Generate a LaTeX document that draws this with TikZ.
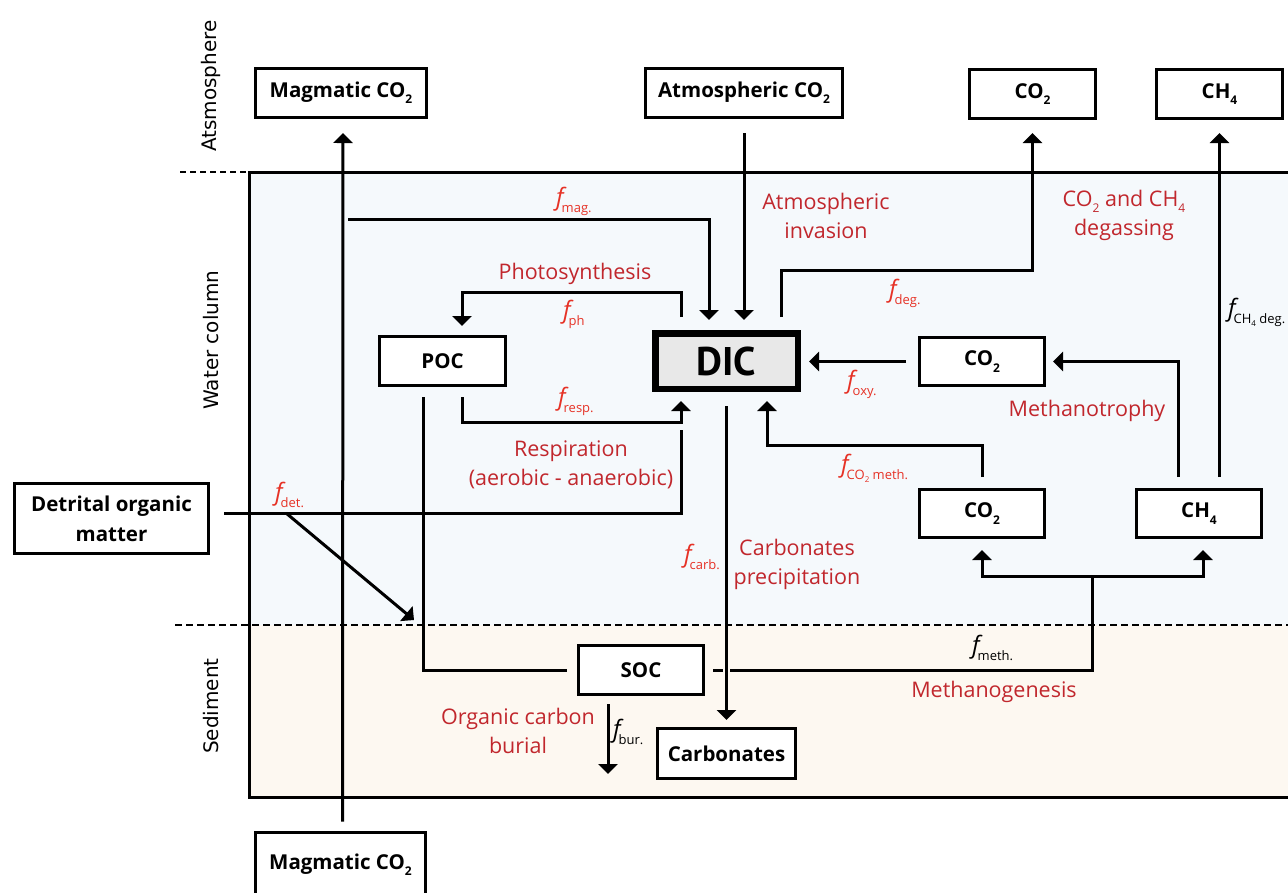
\documentclass[tikz,border=0pt]{standalone}
\usepackage{fontspec}
\setmainfont{Open Sans}
\newfontfamily\ptsans{PT Sans}
\newfontfamily\dejavu{DejaVu Sans}
\usetikzlibrary{arrows.meta}
\definecolor{labred}{RGB}{193,39,45}
\definecolor{fred}{RGB}{230,50,38}
\definecolor{waterbg}{RGB}{245,249,252}
\definecolor{sedbg}{RGB}{253,248,241}
\definecolor{dicgray}{RGB}{232,232,232}
\newcommand\fl[1]{{\fontsize{24}{24}\selectfont\itshape f}\kern-2pt\raisebox{-7pt}{\fontsize{13}{13}\selectfont #1}}
\newcommand\sub[1]{\raisebox{-0.3em}{\fontsize{12}{12}\selectfont #1}}
\newcommand\ssub[1]{\raisebox{-0.25em}{\fontsize{8}{8}\selectfont #1}}
\tikzset{
  box/.style={draw, line width=3pt, fill=white, inner sep=0pt, align=center,
    font=\fontsize{20.5}{30}\selectfont\bfseries},
  line/.style={line width=3pt},
  arr/.style={line width=3pt, -{Triangle[width=19pt,length=10pt]}},
  redlab/.style={text=labred, font=\fontsize{21.5}{29}\selectfont, align=center},
  flabel/.style={text=fred, anchor=base west, inner sep=0pt},
  zone/.style={font=\dejavu\fontsize{20}{20}\selectfont, rotate=90}
}
\begin{document}
\begin{tikzpicture}[x=1pt,y=-1pt]
\useasboundingbox (0,0) rectangle (1288,892);
% background zones
\fill[waterbg] (249,172) rectangle (1300,625);
\fill[sedbg] (249,625) rectangle (1300,797);
\draw[line width=3pt] (1300,172) -- (249,172) -- (249,797) -- (1300,797);
\draw[line width=2pt, dash pattern=on 6pt off 4pt] (180,172) -- (249,172);
\draw[line width=2.5pt, dash pattern=on 7pt off 4pt] (175,625) -- (1300,625);
% zone labels
\node[zone] (zatm) at (211,86) {Atsmosphere};
\node[zone] (zwat) at (211,340) {Water column};
\node[zone] (zsed) at (211,706) {Sediment};
% boxes
\node[box, minimum width=171pt, minimum height=49pt] (magtop) at (341,93) {Magmatic CO\sub{2}};
\node[box, minimum width=197pt, minimum height=49pt] (atmco2) at (744,93) {Atmospheric CO\sub{2}};
\node[box, minimum width=126pt, minimum height=49pt] (co2top) at (1032.5,94) {CO\sub{2}};
\node[box, minimum width=126pt, minimum height=49pt] (ch4top) at (1219.5,94) {CH\sub{4}};
\node[box, minimum width=126pt, minimum height=49pt] (poc) at (442.5,361) {POC};
\node[box, line width=6.5pt, fill=dicgray, minimum width=142.5pt, minimum height=55.5pt,
  font=\ptsans\fontsize{40}{40}\selectfont\bfseries] (dic) at (726.5,361) {DIC};
\node[box, minimum width=125pt, minimum height=48pt] (co2mid) at (982,361.5) {CO\sub{2}};
\node[box, minimum width=125pt, minimum height=48pt] (co2low) at (982,513.5) {CO\sub{2}};
\node[box, minimum width=125pt, minimum height=48pt] (ch4low) at (1199,513.5) {CH\sub{4}};
\node[box, minimum width=194pt, minimum height=70pt] (detrital) at (111.5,518.5) {Detrital organic\\matter};
\node[box, minimum width=125pt, minimum height=49pt] (soc) at (641,670) {SOC};
\node[box, minimum width=138pt, minimum height=50pt] (carbonates) at (726.5,753.5) {Carbonates};
\node[box, minimum width=170pt, minimum height=66pt] (magbot) at (340.5,865) {Magmatic CO\sub{2}};
% coordinates
\coordinate (magj) at (348,219);
\coordinate (degc) at (900,270);
\coordinate (phc) at (600,292);
\coordinate (respc) at (600,422);
\coordinate (detc) at (681,430);
\coordinate (dj) at (286,513);
\coordinate (dend) at (414,620);
\coordinate (burend) at (608,774);
\coordinate (methj) at (1092,576);
\coordinate (cmc) at (900,445);
% connectors
\draw[arr, shorten <=9pt, shorten >=14pt] ([xshift=2pt]magbot.north) -- ([xshift=2pt]magtop.south);
\draw[arr, shorten >=10pt] (magj) -| ([xshift=-17.5pt]dic.north);
\draw[arr, shorten <=14pt, shorten >=10pt] (atmco2.south) -- (atmco2.south |- dic.north);
\draw[arr, shorten <=13pt, shorten >=13pt] ([xshift=54.5pt]dic.north) |- (degc) -| (co2top.south);
\draw[arr, shorten <=13pt, shorten >=9pt] ([xshift=-45.5pt]dic.north) |- (phc) -| ([xshift=19.5pt]poc.north);
\draw[arr, shorten <=10pt, shorten >=9pt] ([xshift=19.5pt]poc.south) |- (respc) -| ([xshift=-45.5pt]dic.south);
\draw[line] ([xshift=14pt,yshift=5.5pt]detrital.east) -| (detc);
\draw[arr] (dj) -- (dend);
\draw[line, shorten <=10pt, shorten >=10pt] ([xshift=-19.5pt]poc.south) |- (soc.west);
\draw[arr, shorten <=8pt] ([xshift=-33pt]soc.south) -- (burend);
\draw[line] ([xshift=8pt]soc.east) -- ([xshift=18pt]soc.east);
\draw[line] ([xshift=25pt]soc.east) -| (methj);
\draw[arr, shorten <=14pt, shorten >=7pt] (dic.south) -- (carbonates.north);
\draw[arr, shorten >=11pt] (methj) -| (co2low.south);
\draw[arr, shorten >=11pt] (methj) -| ([xshift=4pt]ch4low.south);
\draw[arr, shorten <=11pt, shorten >=9pt] (co2low.north) |- (cmc) -| ([xshift=40.5pt]dic.south);
\draw[arr, shorten <=12pt, shorten >=8pt] (co2mid.west) -- (co2mid.west -| dic.east);
\draw[arr, shorten <=11pt, shorten >=7pt] ([xshift=-21pt]ch4low.north) |- (co2mid.east);
\draw[arr, shorten <=11pt, shorten >=13pt] (ch4top.south |- ch4low.north) -- (ch4top.south);
% red process labels
\node[redlab] (latm) at (826,216) {Atmospheric\\invasion};
\node[redlab] (ldeg) at (1124,215) {CO\sub{2} and CH\sub{4}\\degassing};
\node[redlab] (lph) at (575,274) {Photosynthesis};
\node[redlab] (lresp) at (571,465) {Respiration\\(aerobic - anaerobic)};
\node[redlab] (lcarb) at (797,564) {Carbonates\\precipitation};
\node[redlab] (lmtr) at (1087,411) {Methanotrophy};
\node[redlab] (lbur) at (518,731) {Organic carbon\\burial};
\node[redlab] (lmgn) at (994,692) {Methanogenesis};
% flux labels
\node[flabel] (fmag) at (556,205) {\fl{mag.}};
\node[flabel] (fph) at (563,318) {\fl{ph}};
\node[flabel] (fresp) at (558,405) {\fl{resp.}};
\node[flabel] (fdeg) at (889,297) {\fl{deg.}};
\node[flabel] (foxy) at (847,388) {\fl{oxy.}};
\node[flabel] (fcm) at (841,472) {\fl{CO\ssub{2} meth.}};
\node[flabel] (fcarb) at (684,562) {\fl{carb.}};
\node[flabel] (fdet) at (275,500) {\fl{det.}};
\node[flabel, text=black] (fch4) at (1228,316) {\fl{CH\ssub{4} deg.}};
\node[flabel, text=black] (fbur) at (613,737) {\fl{bur.}};
\node[flabel, text=black] (fmeth) at (972,653) {\fl{meth.}};
\end{tikzpicture}
\end{document}
